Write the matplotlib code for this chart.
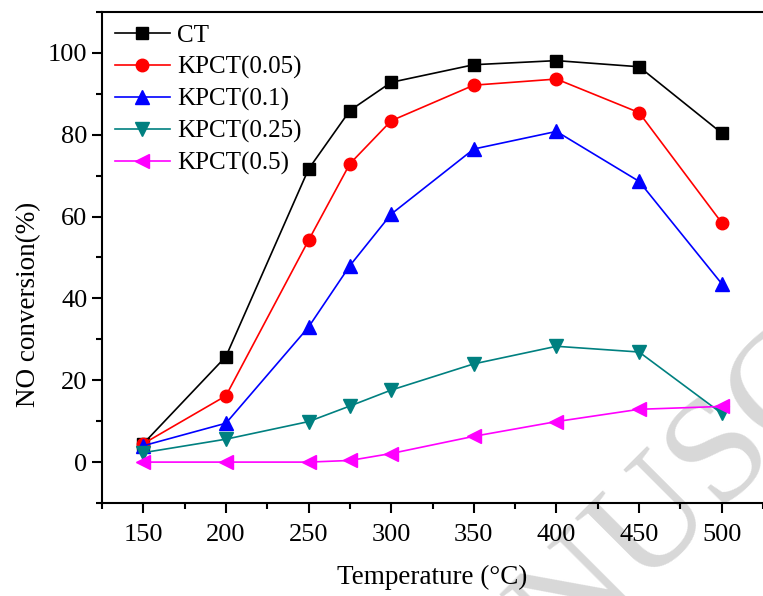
import matplotlib
matplotlib.use("Agg")
from matplotlib import pyplot as plt
from matplotlib.ticker import MultipleLocator

plt.rcParams['font.family'] = ['Liberation Serif', 'DejaVu Serif']

temps = [150, 200, 250, 275, 300, 350, 400, 450, 500]

ct = [4.5, 25.8, 71.6, 85.9, 92.8, 97.1, 98.1, 96.6, 80.4]
kpct_005 = [4.5, 16.2, 54.2, 72.9, 83.4, 92.1, 93.6, 85.4, 58.5]
kpct_01 = [4.0, 9.5, 33.0, 48.0, 60.6, 76.5, 80.8, 68.6, 43.6]
kpct_025 = [2.3, 5.6, 9.9, 13.7, 17.6, 24.0, 28.3, 26.9, 11.9]
kpct_05 = [0.0, 0.0, 0.0, 0.4, 2.1, 6.3, 9.9, 12.9, 13.6]

labels = ['CT', 'KPCT(0.05)', 'KPCT(0.1)', 'KPCT(0.25)', 'KPCT(0.5)']
series = [ct, kpct_005, kpct_01, kpct_025, kpct_05]
colors = ['black', '#ff0000', '#0000ff', '#008080', '#ff00ff']
markers = ['s', 'o', '^', 'v', '<']
msizes = [8.5, 9, 10, 10, 10]

fig = plt.figure(figsize=(7.63, 5.96), dpi=100)
ax = fig.add_axes([0.1337, 0.156, 0.8663, 0.824])
ax.patch.set_alpha(0)

# faint watermark behind everything
fig.text(0.932, 0.216, 'MANUSCRIPT', fontsize=108, color='#d8d8d8',
         rotation=45, rotation_mode='anchor', ha='center', va='center',
         zorder=-1)

for y, lab, c, m, ms in zip(series, labels, colors, markers, msizes):
    ax.plot(temps, y, color=c, marker=m, markersize=ms, linewidth=1.2,
            label=lab)

ax.set_xlim(125, 525)
ax.set_ylim(-10, 110)
ax.xaxis.set_major_locator(MultipleLocator(50))
ax.xaxis.set_minor_locator(MultipleLocator(25))
ax.yaxis.set_minor_locator(MultipleLocator(10))
ax.set_yticks([0, 20, 40, 60, 80, 100])

ax.spines['right'].set_visible(False)
for s in ['left', 'bottom', 'top']:
    ax.spines[s].set_linewidth(1.5)
ax.tick_params(which='major', direction='out', length=7, width=1.5,
               labelsize=19, top=False, right=False)
ax.tick_params(which='minor', direction='out', length=4, width=1.5,
               top=False, right=False)
ax.tick_params(axis='x', pad=8)

ax.set_xlabel('Temperature (°C)', fontsize=19.5, labelpad=14)
ax.set_ylabel('NO conversion(%)', fontsize=19.5)
ax.yaxis.set_label_coords(-0.092, 0.405)

ax.legend(loc='upper left', bbox_to_anchor=(0.0, 1.0), frameon=False,
          fontsize=18, handlelength=2.2, handletextpad=0.3,
          labelspacing=0.36, borderaxespad=0.3, borderpad=0.2)

fig.savefig('out.png', dpi=100)
